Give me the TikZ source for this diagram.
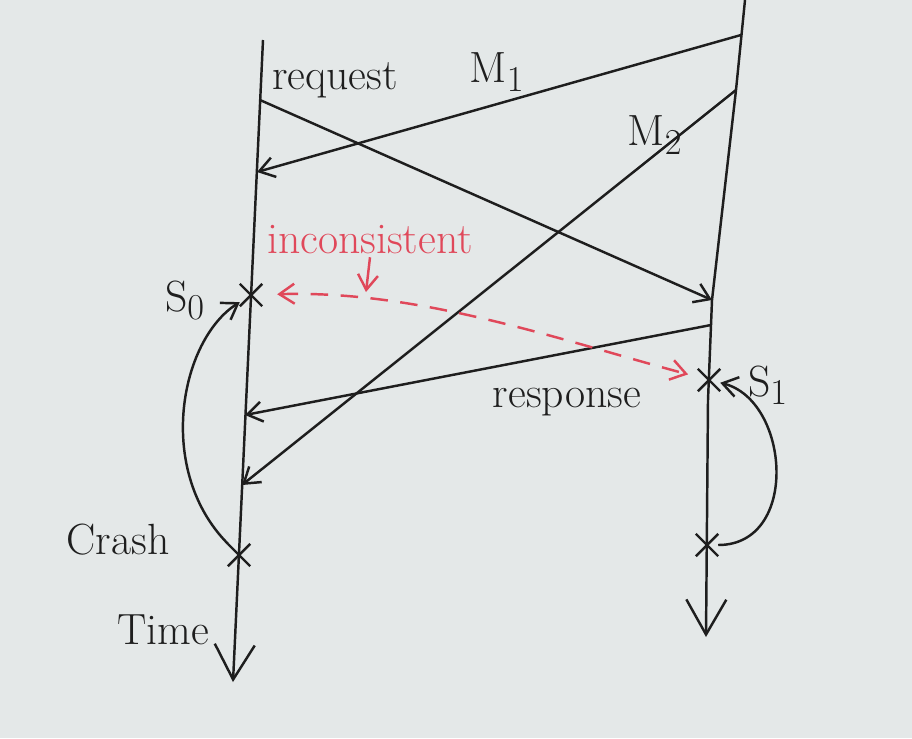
\documentclass[tikz,border=0pt]{standalone}
\usetikzlibrary{arrows.meta, shapes.misc}
\definecolor{cink}{HTML}{1E1E1E}
\definecolor{cred}{HTML}{E0485A}
\definecolor{cboard}{HTML}{E4E8E8}
\tikzset{
  every picture/.style={line width=1.4pt},
  msg/.style={-{Straight Barb[length=3mm, width=4mm]}, draw=cink},
  timeline/.style={-{Straight Barb[length=7mm, width=8mm]}, draw=cink},
  event/.style={cross out, draw=cink, minimum size=4mm, inner sep=0pt},
  incons/.style={{Straight Barb[length=3mm, width=4mm]}-{Straight Barb[length=3mm, width=4mm]}, draw=cred, dash pattern=on 3.5mm off 2.5mm},
  lbl/.style={font=\Huge, text=cink, inner sep=1pt},
  redlbl/.style={font=\Huge, text=cred, inner sep=1pt},
}

\begin{document}
\begin{tikzpicture}[x=0.02cm, y=-0.02cm]
  \fill[cboard] (0,0) rectangle (912,738);
  \useasboundingbox (0,0) rectangle (912,738);
  % left process
  \draw[timeline] (263,40) -- (233,682);
  \coordinate (reqS) at (260,100);
  \coordinate (m1E) at (257,172);
  \node[event] (s0) at (251,295) {};
  \coordinate (respE) at (245,415);
  \coordinate (m2E) at (242,485);
  \node[event] (crash) at (239,555) {};
  % right process
  \draw[timeline] (745,0) -- (736,90) -- (712,300) -- (708,400) -- (706,637);
  \coordinate (m1S) at (741,35);
  \coordinate (m2S) at (736,90);
  \coordinate (reqE) at (712,300);
  \coordinate (respS) at (711,325);
  \node[event] (s1) at (709,380) {};
  \node[event] (low) at (707,545) {};
  % messages
  \draw[msg] (m1S) -- (m1E);
  \draw[msg] (reqS) -- (reqE);
  \draw[msg] (m2S) -- (m2E);
  \draw[msg] (respS) -- (respE);
  \draw[msg] (crash) .. controls (155,470) and (180,340) .. (s0);
  \draw[msg] (low) .. controls (800,545) and (790,400) .. (s1);
  % labels
  \node[lbl] (req) at (335,80) {request};
  \node[lbl] (m1) at (497,72) {M$_1$};
  \node[lbl] (m2) at (655,135) {M$_2$};
  \node[lbl] (resp) at (567,402) {response};
  \node[lbl] (s0l) at (185,300) {S$_0$};
  \node[lbl] (s1l) at (768,385) {S$_1$};
  \node[lbl] (crl) at (118,540) {Crash};
  \node[lbl] (tl) at (163,630) {Time};
  % inconsistent states
  \node[redlbl] (inc) at (370,240) {inconsistent};
  \coordinate (incTip) at (366,292);
  \draw[-{Straight Barb[length=3mm, width=4mm]}, draw=cred] (inc.south) -- (incTip);
  \draw[incons, shorten <=3mm, shorten >=2mm] (s0) .. controls (420,290) and (560,340) .. (s1);
\end{tikzpicture}
\end{document}
